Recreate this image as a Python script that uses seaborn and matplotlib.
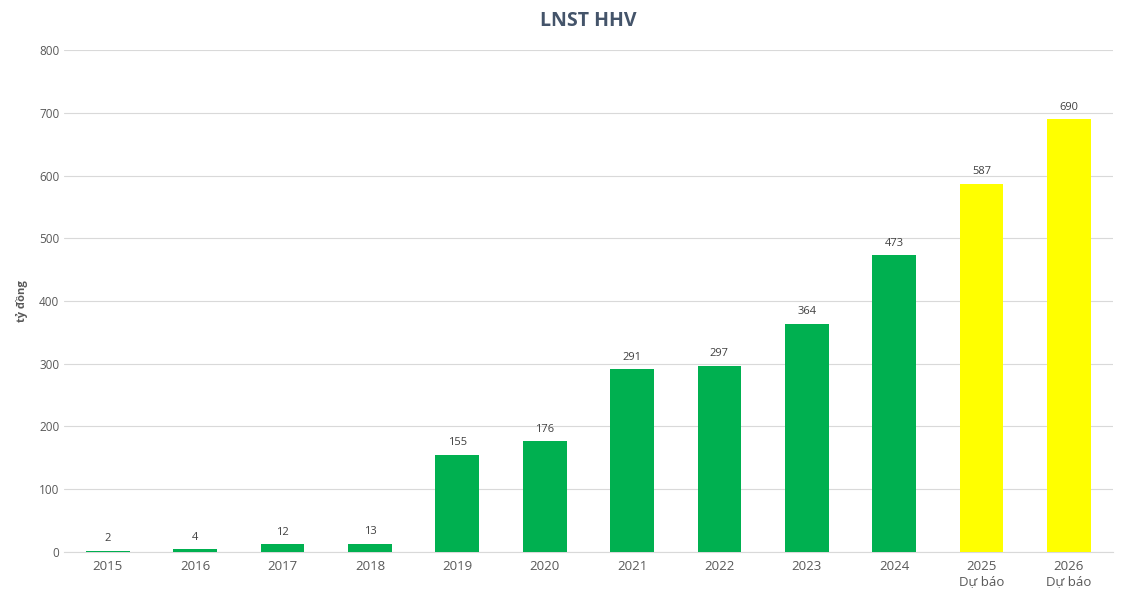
import pandas as pd
import matplotlib.pyplot as plt
import seaborn as sns

# du lieu LNST HHV (ty dong)
years = ['2015', '2016', '2017', '2018', '2019', '2020', '2021', '2022',
         '2023', '2024', '2025\nDự báo', '2026\nDự báo']
profit = [2, 4, 12, 13, 155, 176, 291, 297, 364, 473, 587, 690]
kind = ['Thực hiện'] * 10 + ['Dự báo'] * 2

df = pd.DataFrame({'Nam': years, 'LNST': profit, 'Loai': kind})

sns.set_style('white')
plt.rcParams['font.family'] = ['Open Sans', 'DejaVu Sans']

fig, ax = plt.subplots(figsize=(11.25, 5.96), dpi=100)
fig.subplots_adjust(left=0.057, right=0.989, top=0.916, bottom=0.074)

sns.barplot(data=df, x='Nam', y='LNST', hue='Loai',
            palette={'Thực hiện': '#00B050', 'Dự báo': '#FFFF00'},
            saturation=1, width=0.5, dodge=False, legend=False,
            linewidth=0, ax=ax, zorder=3)

for i, v in enumerate(profit):
    ax.text(i, v + 10, str(v), ha='center', va='bottom', fontsize=8, color='#404040')

ax.set_ylim(0, 800)
ax.set_yticks(range(0, 801, 100))
ax.set_xlim(-0.5, len(years) - 0.5)
ax.grid(axis='y', color='#D9D9D9', linewidth=0.8, zorder=0)
ax.set_axisbelow(True)
for s in ['top', 'right', 'left']:
    ax.spines[s].set_visible(False)
ax.spines['bottom'].set_color('#D9D9D9')
ax.spines['bottom'].set_zorder(1)
ax.tick_params(axis='both', length=0, colors='#595959')
ax.tick_params(axis='x', labelsize=9.5, pad=6)
ax.tick_params(axis='y', labelsize=8.5)
ax.set_xlabel('')
ax.set_ylabel('tỷ đồng', fontsize=8, fontweight='bold', color='#595959', labelpad=8)
ax.set_title('LNST HHV', fontsize=14, fontweight='bold', color='#44546A', pad=17)

plt.savefig('out.png', dpi=100)
